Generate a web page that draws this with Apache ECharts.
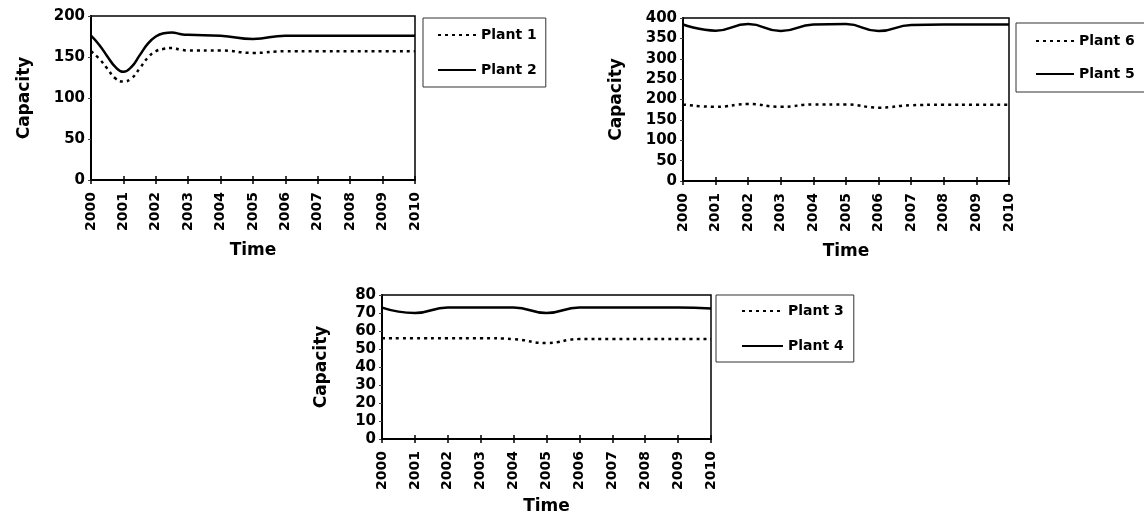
<!DOCTYPE html>
<html>
<head>
<meta charset="utf-8">
<script src="https://cdn.jsdelivr.net/npm/echarts@6/dist/echarts.min.js"></script>
<style>
  html, body { margin: 0; padding: 0; background: #fff; }
  #chart { width: 1144px; height: 516px; }
</style>
</head>
<body>
<div id="chart"></div>
<script>
// Time positions (years) and capacity values per plant
const yearsA = [2000, 2000.25, 2000.5, 2000.75, 2001, 2001.25, 2001.5, 2001.75, 2002, 2002.25, 2002.5, 2002.75,
                2003, 2004, 2005, 2006, 2007, 2008, 2009, 2010];
const plant1 = [157, 148, 136, 124, 120, 124, 136, 149, 157, 160, 161, 159,
                158, 158, 155, 157, 157, 157, 157, 157];
const plant2 = [176, 165, 151, 138, 132, 138, 152, 166, 175, 179, 180, 178,
                177, 176, 172, 176, 176, 176, 176, 176];

const yearsB = [2000, 2001, 2002, 2003, 2004, 2005, 2006, 2007, 2008, 2009, 2010];
const plant6 = [188, 182, 189, 182, 188, 188, 180, 186, 187, 187, 187];
const plant5 = [384, 369, 385, 368, 384, 385, 368, 383, 384, 384, 384];

const yearsC = [2000, 2001, 2002, 2003, 2004, 2005, 2006, 2007, 2008, 2009, 2010];
const plant3 = [56, 56, 56, 56, 55.5, 53.3, 55.5, 55.5, 55.5, 55.5, 55.5];
const plant4 = [73, 70, 73, 73, 73, 70, 73, 73, 73, 73, 72.5];

const FONT = 'DejaVu Sans';
const pair = (xs, ys) => xs.map((x, i) => [x, ys[i]]);

const grids = [
  { left: 91, top: 16, width: 324, height: 164 },
  { left: 683, top: 18, width: 326, height: 163 },
  { left: 382, top: 295, width: 329, height: 145 }
];
const yRanges = [
  { max: 200, interval: 50, nameGap: 58 },
  { max: 400, interval: 50, nameGap: 58 },
  { max: 80, interval: 10, nameGap: 52 }
];
const timeGaps = [62, 62, 59];

const xAxes = [];
const yAxes = [];
grids.forEach((g, i) => {
  // main x axis: labels, outward ticks, axis title
  xAxes.push({
    type: 'value', gridIndex: i, min: 2000, max: 2010, interval: 1,
    name: 'Time', nameLocation: 'middle', nameGap: timeGaps[i],
    nameTextStyle: { fontFamily: FONT, fontWeight: 'bold', fontSize: 17, color: '#000' },
    axisLine: { show: true, onZero: false, lineStyle: { color: '#000', width: 2 } },
    axisTick: { show: true, length: 4, lineStyle: { color: '#000', width: 1.5 } },
    axisLabel: {
      rotate: 90, margin: 12, fontFamily: FONT, fontWeight: 'bold', fontSize: 14, color: '#000',
      formatter: v => String(v)
    },
    splitLine: { show: false }
  });
  // companion x axis carrying the inward half of the cross ticks
  xAxes.push({
    type: 'value', gridIndex: i, min: 2000, max: 2010, interval: 1, position: 'bottom',
    axisLine: { show: false, onZero: false },
    axisTick: { show: true, inside: true, length: 4, lineStyle: { color: '#000', width: 1.5 } },
    axisLabel: { show: false },
    splitLine: { show: false }
  });
  yAxes.push({
    type: 'value', gridIndex: i, min: 0, max: yRanges[i].max, interval: yRanges[i].interval,
    name: 'Capacity', nameLocation: 'middle', nameGap: yRanges[i].nameGap,
    nameTextStyle: { fontFamily: FONT, fontWeight: 'bold', fontSize: 17, color: '#000' },
    axisLine: { show: true, lineStyle: { color: '#000', width: 2 } },
    axisTick: { show: true, length: 3, lineStyle: { color: '#444', width: 1 } },
    axisLabel: { margin: 6, fontFamily: FONT, fontWeight: 'bold', fontSize: 15, color: '#000' },
    splitLine: { show: false }
  });
});

const dotted = { color: '#000', width: 2.5, type: [3, 4] };
const solid = { color: '#000', width: 2.5, type: 'solid' };
function line(name, grid, data, style) {
  return {
    name, type: 'line', xAxisIndex: grid * 2, yAxisIndex: grid,
    data, smooth: 0.5, symbol: 'none', lineStyle: style, itemStyle: { color: '#000' },
    silent: true, animation: false
  };
}

const legendText = { fontFamily: FONT, fontWeight: 'bold', fontSize: 14, color: '#000' };
function legend(names, left, top, pad, itemWidth, gap) {
  return {
    data: names, orient: 'vertical', left, top, padding: pad,
    itemWidth, itemHeight: 14, itemGap: gap,
    itemStyle: { opacity: 0 },
    borderColor: '#333', borderWidth: 1,
    textStyle: legendText, selectedMode: false
  };
}

const option = {
  animation: false,
  backgroundColor: '#fff',
  grid: grids.map(g => Object.assign({ show: true, borderColor: '#000', borderWidth: 1.5, backgroundColor: 'transparent' }, g)),
  xAxis: xAxes,
  yAxis: yAxes,
  legend: [
    legend(['Plant 1', 'Plant 2'], 423, 18, [10, 9, 10, 14], 38, 21),
    legend(['Plant 6', 'Plant 5'], 1016, 23, [11, 20, 11, 19], 38, 19),
    legend(['Plant 3', 'Plant 4'], 716, 295, [9, 10, 9, 25], 41, 21)
  ],
  series: [
    line('Plant 1', 0, pair(yearsA, plant1), dotted),
    line('Plant 2', 0, pair(yearsA, plant2), solid),
    line('Plant 6', 1, pair(yearsB, plant6), dotted),
    line('Plant 5', 1, pair(yearsB, plant5), solid),
    line('Plant 3', 2, pair(yearsC, plant3), dotted),
    line('Plant 4', 2, pair(yearsC, plant4), solid)
  ]
};

const chart = echarts.init(document.getElementById('chart'), null, { renderer: 'canvas' });
chart.setOption(option);
</script>
</body>
</html>
